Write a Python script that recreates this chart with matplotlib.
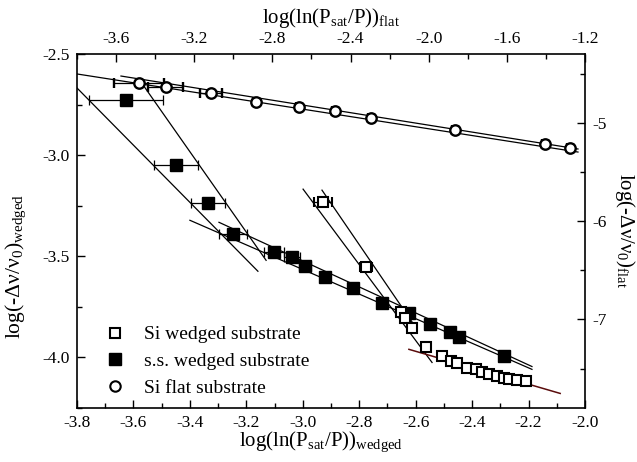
import numpy as np
import matplotlib
matplotlib.use("Agg")
import matplotlib.pyplot as plt
from matplotlib.ticker import MultipleLocator
from matplotlib.lines import Line2D

plt.rcParams['font.family'] = ['Liberation Serif', 'DejaVu Serif']
plt.rcParams['mathtext.fontset'] = 'custom'
plt.rcParams['mathtext.rm'] = 'Liberation Serif'
plt.rcParams['mathtext.it'] = 'Liberation Serif:italic'

# s.s. wedged substrate (bottom / left axes)
ss_x = [-3.626, -3.449, -3.336, -3.247, -3.102, -3.038, -2.992, -2.921, -2.822,
        -2.719, -2.624, -2.549, -2.478, -2.446, -2.287]
ss_y = [-2.728, -3.050, -3.238, -3.391, -3.480, -3.505, -3.550, -3.604, -3.658,
        -3.733, -3.782, -3.837, -3.876, -3.901, -3.995]
ss_xerr = [0.131, 0.078, 0.060, 0.050, 0.035, 0.028, 0.021, 0.012, 0.010,
           0.010, 0.008, 0.008, 0.008, 0.008, 0.008]

# Si wedged substrate (bottom / left axes)
si_x = [-2.928, -2.776, -2.652, -2.638, -2.613, -2.563, -2.507, -2.475, -2.453,
        -2.418, -2.386, -2.365, -2.340, -2.312, -2.287, -2.269, -2.241, -2.209]
si_y = [-3.233, -3.554, -3.777, -3.807, -3.856, -3.950, -3.995, -4.020, -4.030,
        -4.050, -4.059, -4.074, -4.084, -4.094, -4.104, -4.109, -4.114, -4.119]
si_xerr = [0.032, 0.020] + [0.004] * 16

# Si flat substrate (top / right axes)
flat_x = [-3.483, -3.345, -3.114, -2.884, -2.664, -2.480, -2.295, -1.866, -1.405, -1.277]
flat_y = [-4.595, -4.636, -4.697, -4.788, -4.839, -4.880, -4.947, -5.073, -5.215, -5.256]
flat_xerr = [0.13, 0.09, 0.055, 0.015, 0.015, 0.015, 0.015, 0.015, 0.015, 0.015]

# fitted lines: (x0, y0, x1, y1)
wedged_fits = [(-3.800, -2.668, -3.159, -3.574),
               (-3.566, -2.653, -3.130, -3.520),
               (-3.400, -3.322, -2.188, -4.059),
               (-3.297, -3.332, -2.188, -4.045),
               (-2.999, -3.168, -2.542, -4.025),
               (-2.932, -3.173, -2.602, -3.847)]
red_fit = (-2.624, -3.960, -2.088, -4.178)
flat_fits = [(-3.800, -4.503, -1.236, -5.297),
             (-3.575, -4.524, -1.236, -5.266)]

fig = plt.figure(figsize=(6.37, 4.62), dpi=100)
ax = fig.add_axes([0.1209, 0.1169, 0.7975, 0.7662])
ax2 = fig.add_axes(ax.get_position(), frameon=False)
ax2.patch.set_visible(False)

for x0, y0, x1, y1 in wedged_fits:
    ax.plot([x0, x1], [y0, y1], color='black', lw=0.9)
ax.plot([red_fit[0], red_fit[2]], [red_fit[1], red_fit[3]], color='#5a0c0c', lw=1.1)
for x0, y0, x1, y1 in flat_fits:
    ax2.plot([x0, x1], [y0, y1], color='black', lw=0.9)

ax.errorbar(ss_x, ss_y, xerr=ss_xerr, fmt='s', color='black', ms=8.3,
            mfc='black', mec='black', ecolor='black', elinewidth=0.9,
            capsize=3.5, capthick=0.9, zorder=3)
ax.errorbar(si_x, si_y, xerr=si_xerr, fmt='s', color='black', ms=6.5,
            mfc='white', mec='black', mew=1.5, ecolor='black', elinewidth=0.9,
            capsize=3.5, capthick=0.9, zorder=3)
ax2.errorbar(flat_x, flat_y, xerr=flat_xerr, fmt='o', color='black', ms=7.5,
             mfc='white', mec='black', mew=1.7, ecolor='black', elinewidth=0.9,
             capsize=3.5, capthick=0.9, zorder=3)

ax.set_xlim(-3.8, -2.0)
ax.set_ylim(-4.25, -2.5)
ax2.set_xlim(-3.8, -1.2)
ax2.set_ylim(-7.9, -4.3)

ax.xaxis.set_major_locator(MultipleLocator(0.2))
ax.xaxis.set_minor_locator(MultipleLocator(0.1))
ax.yaxis.set_major_locator(MultipleLocator(0.5))
ax.yaxis.set_minor_locator(MultipleLocator(0.25))
ax.xaxis.set_major_formatter(plt.FuncFormatter(lambda v, p: f"{v:.1f}"))
ax.yaxis.set_major_formatter(plt.FuncFormatter(lambda v, p: f"{v:.1f}"))

ax2.xaxis.tick_top()
ax2.yaxis.tick_right()
ax2.xaxis.set_label_position('top')
ax2.yaxis.set_label_position('right')
ax2.xaxis.set_major_locator(MultipleLocator(0.4))
ax2.xaxis.set_minor_locator(MultipleLocator(0.2))
ax2.yaxis.set_major_locator(MultipleLocator(1))
ax2.yaxis.set_minor_locator(MultipleLocator(0.5))
ax2.xaxis.set_major_formatter(plt.FuncFormatter(lambda v, p: f"{v:.1f}"))
ax2.yaxis.set_major_formatter(plt.FuncFormatter(lambda v, p: f"{v:.0f}"))

for a in (ax, ax2):
    a.tick_params(which='major', direction='in', length=6, width=1, labelsize=12.5, pad=5)
    a.tick_params(which='minor', direction='in', length=3.5, width=1)
for s in ax.spines.values():
    s.set_linewidth(1.2)

ax.set_xlabel(r"log(ln(P$_{\mathrm{sat}}$/P))$_{\mathrm{wedged}}$", fontsize=15)
ax.xaxis.set_label_coords(0.48, -0.062)
ax.set_ylabel(r"log(-Δν/ν$_{\mathrm{0}}$)$_{\mathrm{wedged}}$", fontsize=15.5)
ax.yaxis.set_label_coords(-0.097, 0.40)
ax2.set_xlabel(r"log(ln(P$_{\mathrm{sat}}$/P))$_{\mathrm{flat}}$", fontsize=15, labelpad=6)
ax2.set_ylabel(r"log(-Δν/ν$_{\mathrm{0}}$)$_{\mathrm{flat}}$", fontsize=15, rotation=-90,
               va='center', ha='center')
ax2.yaxis.set_label_coords(1.078, 0.5)

handles = [Line2D([], [], ls='none', marker='s', ms=6.5, mfc='white', mec='black', mew=1.5),
           Line2D([], [], ls='none', marker='s', ms=8.3, mfc='black', mec='black'),
           Line2D([], [], ls='none', marker='o', ms=7.5, mfc='white', mec='black', mew=1.5)]
labels = ['Si wedged substrate', 's.s. wedged substrate', 'Si flat substrate']
ax2.legend(handles, labels, loc='lower left', bbox_to_anchor=(0.04, 0.014),
           frameon=False, fontsize=14, handlelength=1.2, handletextpad=0.9,
           labelspacing=0.48, borderaxespad=0.0, borderpad=0.3)

fig.savefig('out.png', dpi=100)
